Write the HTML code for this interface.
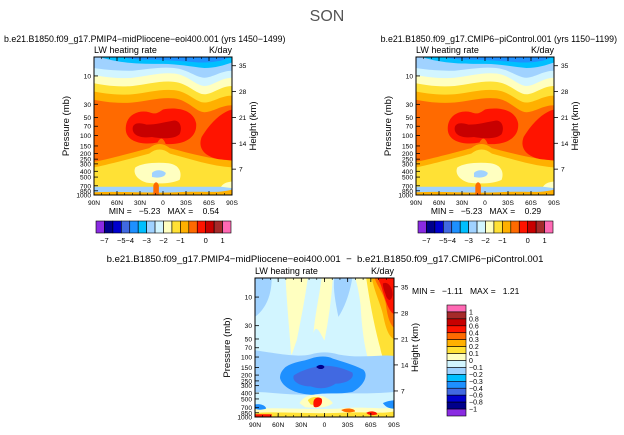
<!DOCTYPE html>
<html><head><meta charset="utf-8"><style>
body{margin:0;background:#fff;}
svg{display:block;font-family:"Liberation Sans",sans-serif;}
text{white-space:pre;}
</style></head><body>
<svg id="chart" width="624" height="435" viewBox="0 0 624 435">
<defs>
<clipPath id="clipP"><rect x="0" y="0" width="100" height="100"/></clipPath>
</defs>
<text x="327" y="21" font-size="16" fill="#555" text-anchor="middle">SON</text>
<g id="panels"></g>
</svg>
<script>
// Colour levels (top panels)
const topLevels = ["-7","-6","-5","-4","-3.5","-3","-2.5","-2","-1.5","-1","-0.5","0","0.25","0.5","1"];
const topLabels = ["-7","-5","-4","-3","-2","-1","0","1"];
const topLabelIdx = [1,3,4,6,8,10,13,15];
const topColors = ["#8a2be2","#00008b","#0000cd","#4169e1","#1e90ff","#00bfff","#a0d2ff","#d2f5ff","#ffffc0","#ffe135","#ffb000","#ff6a00","#ff1400","#c80000","#a52a2a","#ff69b4"];
// Colour levels (difference panel)
const diffLabels = ["1","0.8","0.6","0.4","0.3","0.2","0.1","0","-0.1","-0.2","-0.3","-0.4","-0.6","-0.8","-1"];
const diffColors = ["#ff69b4","#a52a2a","#c80000","#ff1400","#ff6a00","#ffb000","#ffe135","#ffffc0","#d2f5ff","#a0d2ff","#00bfff","#1e90ff","#4169e1","#0000cd","#00008b","#8a2be2"];
// Axes
const pressureTicks = [10,30,50,70,100,150,200,250,300,400,500,700,850,1000];
const heightTicks = [7,14,21,28,35];
const latTicks = ["90N","60N","30N","0","30S","60S","90S"];
const pTop = Math.pow(10,0.682), pBot = 1000;

const NS="http://www.w3.org/2000/svg";
const root=document.getElementById('panels');
function el(tag,attrs,parent,txt){const e=document.createElementNS(NS,tag);for(const k in attrs)e.setAttribute(k,attrs[k]);if(txt!==undefined)e.textContent=txt;(parent||root).appendChild(e);return e;}
function yOfP(p){return (Math.log10(p)-Math.log10(pTop))/(Math.log10(pBot)-Math.log10(pTop));}

const topShapes = [
 ["#ffe135","M0,0H100V100H0Z"],
 ["#ffb000","M0,0H100V80C85,79 70,74 55,70C50,66 45,66 40,70C25,74 10,78 0,80Z"],
 ["#ff6a00","M0,0H100V75C85,74 70,70 55,66C50,62 45,62 40,66C25,70 10,74 0,76Z"],
 ["#ffb000","M0,0H100V35C92,35 86,40 80,40C74,40 68,31 58,30C48,29 38,32 28,33C15,34 6,32 0,31Z"],
 ["#ffe135","M0,0H100V28C92,28 86,33 80,33C74,33 68,25 58,24C48,23 38,26 28,27C15,28 6,26 0,25Z"],
 ["#ffffc0","M0,0H100V21C92,21 86,27 80,27C74,27 68,19 58,18C48,17 38,20 28,21C15,22 6,20 0,19Z"],
 ["#d2f5ff","M0,0H100V15C92,15 86,21 80,21C74,21 68,13 58,12C48,11 38,14 28,15C15,16 6,14 0,13Z"],
 ["#a0d2ff","M0,0H100V10C92,10 86,15 80,15C74,15 68,9 58,8C48,7 38,9 28,10C15,10 6,9 0,8Z"],
 ["#00bfff","M4,0H100V4C94,6 88,8 80,8C70,7 60,5 50,5C35,5 20,5 4,0Z"],
 ["#1e90ff","M20,0H98C94,3 86,4 76,4C64,3 50,2 38,2C30,2 24,1 20,0Z"],
 ["#ff1400","M23,52C23,42 32,38 40,40C45,42 47,40 50,38C60,36 72,38 74,48C75,58 66,64 52,63C50,58 48,58 46,62C36,64 23,62 23,52Z"],
 ["#c80000","M28,52C28,48 32,47 38,49C45,49 52,47 58,46C63,46 64,52 62,56C58,60 48,59 42,58C34,59 28,57 28,52Z"],
 ["#ff1400","M100,38C92,40 84,48 78,58C75,66 80,72 90,74L100,75Z"],
 ["#ffffc0","M30,80C34,77 45,76 54,77C62,78 64,84 62,89C56,92 46,92 38,91C31,89 28,84 30,80Z"],
 ["#a0d2ff","M42,84C45,81 50,82 52,84C52,87 47,88 42,87Z"],
 ["#a0d2ff","M0,94H100V100H0Z"],
 ["#ffb000","M0,98C20,97 40,99 60,98C80,97 90,99 100,96V100H0Z"],
 ["#ff6a00","M43,100V93C44,90 46,90 47,93V100Z"],
 ["#ffffc0","M92,94C95,90 98,91 100,90V95Z"]
];
const diffShapes = [
 ["#d2f5ff","M0,0H100V100H0Z"],
 ["#a0d2ff","M0,0H12C12,12 8,22 0,28Z"],
 ["#a0d2ff","M57,0H70C68,12 64,22 60,28C58,18 56,8 57,0Z"],
 ["#ffffc0","M22,0H38C36,15 33,30 30,45C28,50 27,55 26,55C25,40 23,20 22,0Z"],
 ["#ffffc0","M48,0H56C55,15 53,30 50,45C47,40 44,32 42,40C43,28 46,14 48,0Z"],
 ["#ffffc0","M72,0H100V70C95,70 90,72 86,70C80,60 77,40 76,20C75,12 74,6 72,0Z"],
 ["#ffe135","M80,0H100V64C95,64 92,60 90,50C86,35 83,20 80,0Z"],
 ["#ffb000","M84,0H100V44C96,42 94,36 92,26C90,18 86,10 84,0Z"],
 ["#ff6a00","M86,0H100V36C96,32 95,25 94,18C92,10 88,6 86,0Z"],
 ["#ff1400","M88,0H100V26C96,24 94,16 92,10C91,6 90,3 88,0Z"],
 ["#c80000","M92,4C95,2 99,6 99,12C98,18 95,16 94,12C93,9 92,7 92,4Z"],
 ["#a0d2ff","M0,52C20,55 30,57 40,55C47,53 53,53 60,55C75,58 90,55 100,56V82C80,84 60,82 40,84C20,84 10,82 0,82Z"],
 ["#1e90ff","M22,64C28,60 35,60 40,58C46,56 52,56 56,58C62,60 70,62 78,66C82,70 78,78 70,82C60,84 50,82 42,84C32,84 20,80 18,72C18,68 20,66 22,64Z"],
 ["#4169e1","M28,70C34,66 42,64 48,63C55,63 62,64 70,68C72,72 66,76 58,76C52,80 46,80 40,78C32,78 26,74 28,70Z"],
 ["#00008b","M44,64C46,62 49,62 50,64C49,66 46,66 44,64Z"],
 ["#ffffc0","M32,90C35,85 40,84 44,84C50,85 54,87 56,90C53,93 45,94 36,93Z"],
 ["#ffe135","M38,88C40,85 46,85 48,87C49,90 44,92 40,91Z"],
 ["#ff1400","M42,90C42,86 46,85 48,87C49,90 47,93 44,93C42,93 42,92 42,90Z"],
 ["#ffffc0","M0,94C20,93 40,95 60,94C80,92 90,95 100,93V100H0Z"],
 ["#ffe135","M0,97C20,96 40,98 60,97C80,96 90,98 100,96V100H0Z"],
 ["#ff6a00","M62,95C66,93 72,94 72,96C68,97 64,97 62,95Z"],
 ["#ff1400","M80,97C83,95 88,96 88,98C85,99 82,99 80,97Z"],
 ["#1e90ff","M0,91C4,90 8,92 8,94C5,95 2,95 0,94Z"],
 ["#ff1400","M0,98H12V100H0Z"],
 ["#1e90ff","M92,90C96,88 100,88 100,88V94C97,94 94,93 92,90Z"]
];

function drawPanel(x0,y0,w,h,shapes,key,subtitle,subX,subAnchor){
  const g=el('g',{});
  
  
  if(subtitle){const t=el('text',{x:subX,y:42,'font-size':8.8,'text-anchor':subAnchor,fill:'#000'},g,subtitle);
    
    }
  const t1=el('text',{x:x0,y:y0-4,'font-size':9,fill:'#000'},g,'LW heating rate');
  
  
  const t2=el('text',{x:x0+w,y:y0-4,'font-size':9,fill:'#000','text-anchor':'end'},g,'K/day');
  
  
  const fg=el('g',{transform:`translate(${x0},${y0}) scale(${w/100},${h/100})`,'clip-path':'url(#clipP)'},g);
  
  
  shapes.forEach(s=>{const p=el('path',{d:s[1],fill:s[0]},fg);
    
    });
  const fr=el('rect',{x:x0,y:y0,width:w,height:h,fill:'none',stroke:'#000','stroke-width':1},g);
  
  
  pressureTicks.forEach(p=>{const y=y0+yOfP(p)*h;
    el('line',{x1:x0,x2:x0+4,y1:y,y2:y,stroke:'#000','stroke-width':0.8},g);
    const tl=el('text',{x:x0-3,y:y+2.5,'font-size':6.6,'text-anchor':'end'},g,String(p));
    
    });
  heightTicks.forEach(z=>{const p=1000*Math.exp(-z/7);const y=y0+yOfP(p)*h;
    el('line',{x1:x0+w,x2:x0+w+4,y1:y,y2:y,stroke:'#000','stroke-width':0.8},g);
    const tl=el('text',{x:x0+w+7,y:y+2.5,'font-size':6.6},g,String(z));
    
    });
  latTicks.forEach((l,i)=>{const x=x0+i*w/(latTicks.length-1);
    el('line',{x1:x,x2:x,y1:y0+h,y2:y0+h-4,stroke:'#000','stroke-width':0.8},g);
    el('line',{x1:x,x2:x,y1:y0,y2:y0+4,stroke:'#000','stroke-width':0.8},g);
    const tl=el('text',{x:x,y:y0+h+10,'font-size':6.6,'text-anchor':'middle'},g,l);
    
    });
  for(let i=0;i<18;i++){const x=x0+i*w/18;
    el('line',{x1:x,x2:x,y1:y0+h,y2:y0+h-2,stroke:'#000','stroke-width':0.6},g);
    el('line',{x1:x,x2:x,y1:y0,y2:y0+2,stroke:'#000','stroke-width':0.6},g);}
  const yt=el('text',{transform:`translate(${x0-25},${y0+h/2}) rotate(-90)`,'font-size':9.5,'text-anchor':'middle'},g,'Pressure (mb)');
  
  
  const yr=el('text',{transform:`translate(${x0+w+24},${y0+h/2}) rotate(-90)`,'font-size':9.5,'text-anchor':'middle'},g,'Height (km)');
  
  
  return g;
}
function hColorbar(x0,y0,w,h,key){
  const g=el('g',{});
  
  
  const bw=w/topColors.length;
  topColors.forEach((c,i)=>{const r=el('rect',{x:x0+i*bw,y:y0,width:bw,height:h,fill:c,stroke:'#000','stroke-width':0.6},g);
    
    });
  topLabels.forEach((l,i)=>{const x=x0+topLabelIdx[i]*bw;
    const t=el('text',{x:x,y:y0+h+10,'font-size':7.5,'text-anchor':'middle'},g,l.replace('-','\u2212'));
    
    });
}
function vColorbar(x0,y0,w,h){
  const g=el('g',{});
  
  
  const bh=h/diffColors.length;
  diffColors.forEach((c,i)=>{const r=el('rect',{x:x0,y:y0+i*bh,width:w,height:bh,fill:c,stroke:'#000','stroke-width':0.6},g);
    
    });
  diffLabels.forEach((l,i)=>{const y=y0+(i+1)*bh;
    const t=el('text',{x:x0+w+3,y:y+2.5,'font-size':7},g,l.replace('-','\u2212'));
    
    });
}
drawPanel(94,57,138,138,topShapes,'midpliocene','b.e21.B1850.f09_g17.PMIP4\u2212midPliocene\u2212eoi400.001 (yrs 1450\u22121499)',4,'start');
drawPanel(416,57,138,138,topShapes,'picontrol','b.e21.B1850.f09_g17.CMIP6\u2212piControl.001 (yrs 1150\u22121199)',617,'end');
drawPanel(255,278,139,139,diffShapes,'difference',null);
const dt=el('text',{x:325,y:262,'font-size':9.6,'text-anchor':'middle'},root,'b.e21.B1850.f09_g17.PMIP4\u2212midPliocene\u2212eoi400.001  \u2212  b.e21.B1850.f09_g17.CMIP6\u2212piControl.001');


const m1=el('text',{x:164,y:214,'font-size':8.5,'text-anchor':'middle'},root,'MIN =   \u22125.23   MAX =    0.54');


const m2=el('text',{x:486,y:214,'font-size':8.5,'text-anchor':'middle'},root,'MIN =   \u22125.23   MAX =    0.29');


const m3=el('text',{x:412,y:294,'font-size':8.5},root,'MIN =   \u22121.11   MAX =   1.21');


hColorbar(96,221,135,12,'left');
hColorbar(418,221,135,12,'right');
vColorbar(447,305,19,111);
</script>
</body></html>
